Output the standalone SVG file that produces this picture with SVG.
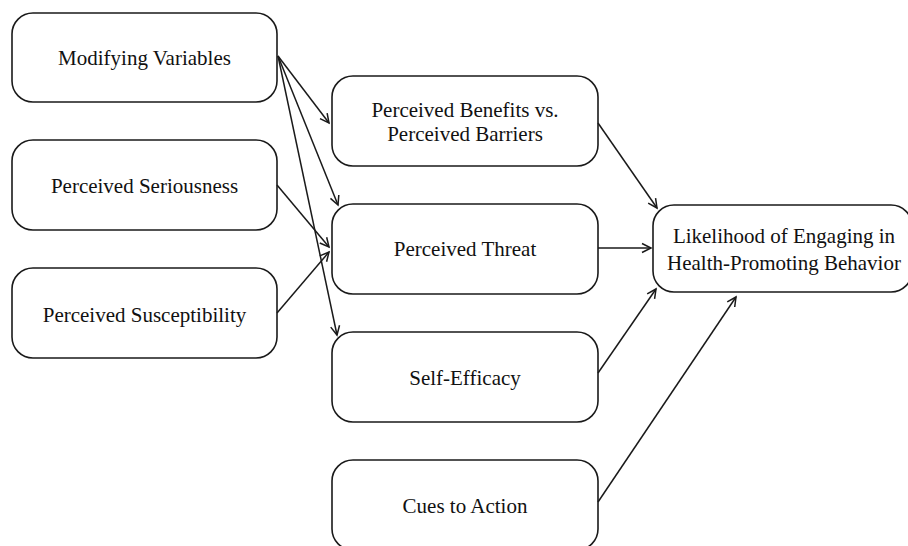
<svg xmlns="http://www.w3.org/2000/svg" width="908" height="546" viewBox="0 0 908 546">
<style>
.box{fill:#fff;stroke:#1a1a1a;stroke-width:1.6}
.t{font-family:"Liberation Serif","Times New Roman",serif;font-size:21px;fill:#111;text-anchor:middle}
.c{stroke:#1a1a1a;stroke-width:1.5;fill:none;marker-end:url(#ah)}
</style>
<defs>
<marker id="ah" viewBox="-11 -6 13 12" refX="0" refY="0" markerWidth="13" markerHeight="12" markerUnits="userSpaceOnUse" orient="auto">
<path d="M-9,-4.5 L0,0 L-9,4.5" fill="none" stroke="#1a1a1a" stroke-width="1.5"/>
</marker>
</defs>
<rect width="908" height="546" fill="#fff"/>
<g id="modifying"><rect class="box" x="12" y="13" width="265" height="89" rx="21"/><text class="t" x="144.5" y="65">Modifying Variables</text></g>
<g id="seriousness"><rect class="box" x="12" y="140" width="265" height="90" rx="21"/><text class="t" x="144.5" y="193">Perceived Seriousness</text></g>
<g id="susceptibility"><rect class="box" x="12" y="268" width="265" height="90" rx="21"/><text class="t" x="144.5" y="322">Perceived Susceptibility</text></g>
<g id="benefits"><rect class="box" x="332" y="76" width="266" height="90" rx="21"/><text class="t" x="465" y="117">Perceived Benefits vs.</text><text class="t" x="465" y="141">Perceived Barriers</text></g>
<g id="threat"><rect class="box" x="332" y="204" width="266" height="90" rx="21"/><text class="t" x="465" y="256">Perceived Threat</text></g>
<g id="selfefficacy"><rect class="box" x="332" y="332" width="266" height="90" rx="21"/><text class="t" x="465" y="385">Self-Efficacy</text></g>
<g id="cues"><rect class="box" x="332" y="460" width="266" height="90" rx="21"/><text class="t" x="465" y="513">Cues to Action</text></g>
<g id="likelihood"><rect class="box" x="653" y="205" width="259" height="87" rx="21"/><text class="t" x="784" y="243">Likelihood of Engaging in</text><text class="t" x="784" y="270">Health-Promoting Behavior</text></g>
<g id="connectors">
<line class="c" x1="278" y1="56" x2="329" y2="123"/>
<line class="c" x1="278" y1="56" x2="338" y2="205"/>
<line class="c" x1="278" y1="56" x2="337" y2="335"/>
<line class="c" x1="277" y1="185" x2="329" y2="247"/>
<line class="c" x1="277" y1="313" x2="329" y2="252"/>
<line class="c" x1="598" y1="123" x2="657" y2="208"/>
<line class="c" x1="598" y1="248" x2="651" y2="248"/>
<line class="c" x1="598" y1="373" x2="656" y2="289"/>
<line class="c" x1="598" y1="502" x2="736" y2="297"/>
</g>
</svg>
